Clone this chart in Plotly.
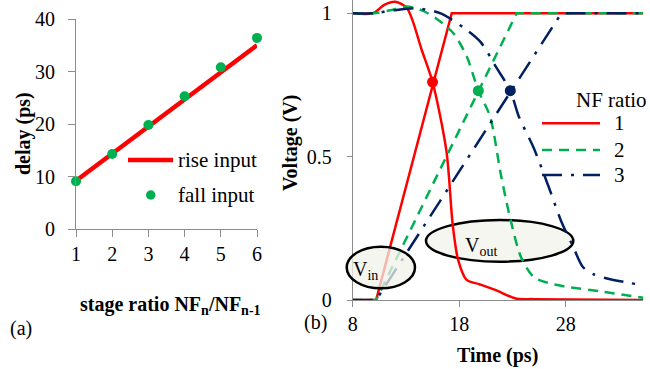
import plotly.graph_objects as go

# ---------------- data ----------------
# Panel (a): delay vs stage ratio
stage_ratio = [1, 2, 3, 4, 5, 6]
rise_delay = [9.2, 14.4, 19.5, 24.7, 29.8, 35.0]
fall_delay = [9.1, 14.3, 19.8, 25.3, 30.8, 36.4]

# Panel (b): waveforms (time in ps, voltage in V)
t_in1 = [8, 10.2, 17.3, 35.3]
v_in1 = [0, 0, 1, 1]
t_in2 = [8, 10.2, 23.4, 35.3]
v_in2 = [0, 0, 1, 1]
t_in3 = [8, 10.2, 27.6, 35.3]
v_in3 = [0, 0, 1, 1]

t_out1 = [8, 9.9, 11, 12.0, 13.1, 14.5, 15.5, 16.8, 17.4, 17.9, 18.7, 19.9, 21.4, 23.3, 25, 35.3]
v_out1 = [1, 1, 1.03, 1.04, 1.017, 0.87, 0.76, 0.52, 0.26, 0.14, 0.07, 0.055, 0.035, 0.005, 0.003, 0.0]

t_out2 = [8, 10, 11.5, 13.1, 14.5, 15.9, 17.45, 18.7, 19.8, 20.9, 21.9, 22.7, 23.8, 25.0, 26.5, 28.1, 31.3, 35.3]
v_out2 = [1, 1, 1.01, 1.023, 1.01, 0.98, 0.93, 0.85, 0.73, 0.64, 0.44, 0.30, 0.15, 0.08, 0.058, 0.046, 0.03, 0.008]

t_out3 = [8, 10, 11.8, 14.0, 16.2, 18.4, 20.0, 21.5, 22.8, 23.6, 25.0, 26.4, 27.6, 28.7, 29.6, 30.6, 31.7, 33.9, 35.3]
v_out3 = [1, 1, 1.01, 1.017, 1.0, 0.95, 0.90, 0.81, 0.73, 0.64, 0.53, 0.395, 0.273, 0.186, 0.116, 0.09, 0.077, 0.06, 0.052]

cross_t = [15.5, 19.8, 22.8]
cross_v = [0.76, 0.73, 0.73]

nf_ratios = ["1", "2", "3"]

# ---------------- style ----------------
W, H = 650, 369
RED = "#ff0000"
GREEN = "#00b050"
NAVY = "#002060"
AXC = "#8c8c8c"
FONT = "Liberation Serif"
colors = [RED, GREEN, NAVY]
dashes = ["solid", "10px,7px", "20px,9px,3px,9px"]

def px(x):
    return x / W

def py(y):
    return 1 - y / H

fig = go.Figure()

# panel (a)
fig.add_trace(go.Scatter(x=stage_ratio, y=rise_delay, mode="lines",
                         line=dict(color=RED, width=4.5), xaxis="x", yaxis="y",
                         showlegend=False, cliponaxis=False))
fig.add_trace(go.Scatter(x=stage_ratio, y=fall_delay, mode="markers",
                         marker=dict(color=GREEN, size=10), xaxis="x", yaxis="y",
                         showlegend=False, cliponaxis=False))

# panel (b)
ins = [(t_in1, v_in1), (t_in2, v_in2), (t_in3, v_in3)]
outs = [(t_out1, v_out1), (t_out2, v_out2), (t_out3, v_out3)]
for i in range(3):
    fig.add_trace(go.Scatter(x=ins[i][0], y=ins[i][1], mode="lines",
                             line=dict(color=colors[i], width=2.5, dash=dashes[i]),
                             xaxis="x2", yaxis="y2", showlegend=False, cliponaxis=False))
    fig.add_trace(go.Scatter(x=outs[i][0], y=outs[i][1], mode="lines",
                             line=dict(color=colors[i], width=2.5, dash=dashes[i],
                                       shape="spline", smoothing=0.8),
                             xaxis="x2", yaxis="y2", showlegend=False, cliponaxis=False))
for i in range(3):
    fig.add_trace(go.Scatter(x=[cross_t[i]], y=[cross_v[i]], mode="markers",
                             marker=dict(color=colors[i], size=11),
                             xaxis="x2", yaxis="y2", showlegend=False, cliponaxis=False))

axis_common = dict(showgrid=False, zeroline=False, showline=True, linecolor=AXC,
                   linewidth=1, ticks="outside", tickcolor=AXC, tickwidth=1,
                   automargin=False,
                   tickfont=dict(family=FONT, size=20, color="black"))

fig.update_layout(
    template="none",
    width=W, height=H,
    margin=dict(l=0, r=0, t=0, b=0, pad=0),
    paper_bgcolor="white", plot_bgcolor="rgba(0,0,0,0)",
    showlegend=False,
    xaxis=dict(domain=[px(76), px(257)], range=[1, 6], tickvals=stage_ratio,
               ticklen=7, anchor="y", **axis_common),
    yaxis=dict(domain=[py(229), py(19)], range=[0, 40], tickvals=[0, 10, 20, 30, 40],
               ticklen=7, anchor="x", ticklabelstandoff=9, **axis_common),
    xaxis2=dict(domain=[px(352.7), px(643.4)], range=[8, 35.3], tickvals=[8, 18, 28],
                ticklen=6, anchor="y2", **axis_common),
    yaxis2=dict(domain=[py(300), py(0)], range=[0, 1.046], tickvals=[0, 0.5, 1],
                ticktext=["0", "0.5", "1"], ticklen=5, anchor="x2",
                ticklabelstandoff=11, **axis_common),
)

shapes = []
annos = []

def text(x, y, s, size=20, bold=False, angle=0, xanchor="center"):
    annos.append(dict(x=px(x), y=py(y), xref="paper", yref="paper", text=s,
                      showarrow=False, textangle=angle, xanchor=xanchor, yanchor="middle",
                      font=dict(family=FONT, size=size, color="black",
                                weight="bold" if bold else "normal")))

# axis titles and panel labels
text(23, 134, "delay (ps)", bold=True, angle=-90)
text(170.5, 305, "stage ratio NF<sub>n</sub>/NF<sub>n-1</sub>", bold=True)
text(21, 328, "(a)")
text(290, 143, "Voltage (V)", bold=True, angle=-90)
text(497, 355, "Time (ps)", bold=True)
text(315, 322, "(b)")

# left legend
shapes.append(dict(type="line", xref="paper", yref="paper", x0=px(128), x1=px(173),
                   y0=py(160), y1=py(160), line=dict(color=RED, width=4.5)))
shapes.append(dict(type="circle", xref="paper", yref="paper", x0=px(146), x1=px(155.5),
                   y0=py(190.3), y1=py(199.7), fillcolor=GREEN, line=dict(width=0)))
text(176, 160, "rise input", size=21, xanchor="left")
text(176, 195, "fall input", size=21, xanchor="left")

# right legend
text(649, 100, "NF ratio", size=21, xanchor="right")
for i, yy in enumerate([123.3, 150, 175]):
    shapes.append(dict(type="line", xref="paper", yref="paper", x0=px(542), x1=px(600),
                       y0=py(yy), y1=py(yy),
                       line=dict(color=colors[i], width=2.5, dash=dashes[i])))
    text(619, yy, nf_ratios[i], size=21)

# ellipses
shapes.append(dict(type="circle", xref="paper", yref="paper", x0=px(346.7), x1=px(415),
                   y0=py(288.3), y1=py(246.7), fillcolor="rgba(242,242,234,0.75)",
                   line=dict(color="black", width=2.5), layer="above"))
shapes.append(dict(type="circle", xref="paper", yref="paper", x0=px(426), x1=px(573.3),
                   y0=py(261.7), y1=py(220), fillcolor="rgb(246,246,240)",
                   line=dict(color="black", width=2.5), layer="below"))
text(365, 270, "V<sub>in</sub>")
text(481, 246, "V<sub>out</sub>")

fig.update_layout(shapes=shapes, annotations=annos)
fig.write_html("out.html", config={"displayModeBar": False},
               post_script="document.body.style.margin='0px';document.body.style.overflow='hidden';")
